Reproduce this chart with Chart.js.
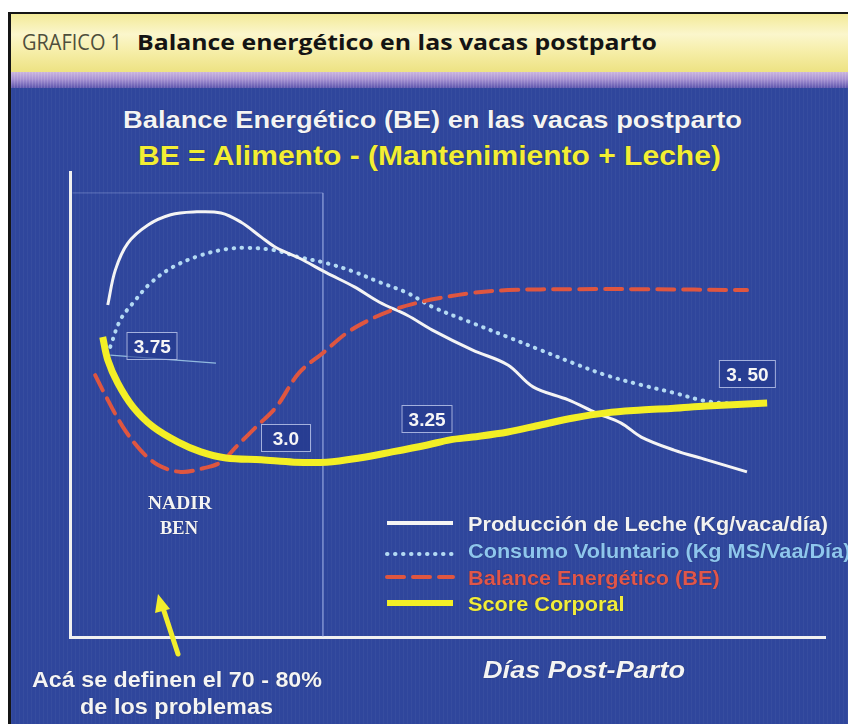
<!DOCTYPE html>
<html>
<head>
<meta charset="utf-8">
<script src="https://cdn.jsdelivr.net/npm/chart.js@4"></script>
<style>
  body { margin: 0; background: #fff; }
  #page { position: relative; width: 848px; height: 724px; overflow: hidden; background: #fff; }
  #frame { position: absolute; left: 8px; top: 12px; right: -4px; bottom: -4px; border-left: 3px solid #151515; border-top: 2px solid #151515; }
  #band { position: absolute; left: 11px; top: 14px; width: 837px; height: 58px;
    background: linear-gradient(180deg, #f3ea98 0%, #fbf6cc 35%, #f6eea8 65%, #ede283 100%); }
  #strip { position: absolute; left: 11px; top: 72px; width: 837px; height: 16px;
    background: repeating-linear-gradient(90deg, rgba(255,255,255,0.12) 0 1px, transparent 1px 3px),
                linear-gradient(180deg, #cbb5de 0%, #a792d2 45%, #5d55ad 100%); }
  #slide { position: absolute; left: 11px; top: 88px; width: 837px; height: 636px;
    background: repeating-linear-gradient(90deg, rgba(255,255,255,0.035) 0 1px, transparent 1px 4px), #2f469c; }
  canvas { position: absolute; left: 0; top: 0; }
  .t { position: absolute; white-space: nowrap; line-height: 1; transform: translateY(-50%); transform-origin: left center;
    font-family: "Liberation Sans", Arial, sans-serif; font-weight: bold; color: #f4f4f4;
    text-shadow: 0 0 1px rgba(0,0,0,0.5); }
  .hdr { font-family: "Open Sans", sans-serif; text-shadow: none; }
  .serif { font-family: "Liberation Serif", serif; }
  .box { position: absolute; transform: translate(-50%, -50%); border: 1px solid rgba(205,215,245,0.75);
    padding: 4px 6px 3px; min-width: 36px; text-align: center;
    font: bold 19px "Liberation Sans", Arial, sans-serif; color: #f6f6f6; line-height: 1;
    background: rgba(35,55,140,0.6); }
  .leg { position: absolute; left: 385px; width: 70px; height: 10px; transform: translateY(-50%); }
  svg { position: absolute; left: 0; top: 0; }
</style>
</head>
<body>
<div id="page">
  <div id="frame"></div>
  <div id="band"></div>
  <div id="strip"></div>
  <div id="slide"></div>

  <div class="t hdr" data-w="100" data-s="21" style="left:22px; top:42px; font-weight:400; color:#4e4e3c;">GRAFICO 1</div>
  <div class="t hdr" data-w="520" data-s="21" style="left:137px; top:42px; font-weight:700; color:#141414;">Balance energético en las vacas postparto</div>

  <div class="t" data-w="619" data-s="24" style="left:123px; top:120px;">Balance Energético (BE) en las vacas postparto</div>
  <div class="t" data-w="584" data-s="27" style="left:138px; top:156px; color:#f3ee34;">BE = Alimento - (Mantenimiento + Leche)</div>

  <canvas id="chart" width="848" height="724"></canvas>

  <div class="t serif" data-w="64" data-s="19" style="left:148px; top:502px;">NADIR</div>
  <div class="t serif" data-w="38" data-s="19" style="left:160px; top:527px;">BEN</div>

  <div class="t" data-w="202" data-s="23" style="left:483px; top:670px; font-style:italic;">Días Post-Parto</div>
  <div class="t" data-w="290" data-s="22" style="left:32px; top:680px;">Acá se definen el 70 - 80%</div>
  <div class="t" data-w="193" data-s="22" style="left:80px; top:707px;">de los problemas</div>

  <svg width="848" height="724">
    <line x1="178" y1="654" x2="163" y2="608" stroke="#f2ee2c" stroke-width="5" stroke-linecap="round"/>
    <polygon points="158,594 155,613 170,609" fill="#f2ee2c"/>
  </svg>
</div>

<script>
// Producción de leche (curva blanca)
const lecheDias = [15, 18, 23, 31, 40, 49, 60, 68, 76, 82, 91, 102, 113, 123, 134, 144, 160, 174, 184, 198, 209, 219, 227, 240, 253, 269];
const lecheVal = [71.4, 78.9, 84.7, 88.6, 90.8, 91.4, 91.2, 89.2, 86.0, 83.7, 81.5, 78.3, 75.3, 72.0, 69.2, 66.0, 61.7, 58.5, 53.8, 51.0, 48.2, 46.0, 43.0, 40.2, 38.1, 35.5];

// Consumo voluntario (punteada)
const consumoDias = [16, 20, 25, 32, 41, 52, 62, 70, 81, 91, 102, 113, 123, 134, 144, 160, 174, 187, 200, 213, 227, 240, 252, 264];
const consumoVal = [62.4, 68.2, 71.8, 76.1, 79.6, 82.1, 83.4, 83.7, 83.2, 81.7, 80.4, 78.5, 76.3, 74.0, 71.0, 67.5, 64.5, 61.7, 58.9, 56.3, 54.2, 52.5, 50.8, 50.1];

// Balance energetico (rayada)
const balanceDias = [10, 15, 21, 28, 35, 44, 53, 60, 66, 74, 82, 91, 101, 110, 119, 128, 139, 147, 160, 174, 200, 227, 269];
const balanceVal = [56.3, 51.0, 45.2, 40.2, 37.0, 35.5, 36.3, 37.6, 40.9, 45.2, 49.5, 56.8, 61.3, 65.4, 68.2, 70.3, 72.0, 72.9, 74.0, 74.6, 74.8, 74.8, 74.6];

// Score corporal (amarilla)
const scoreDias = [13, 15, 19, 25, 33, 43, 52, 62, 76, 89, 102, 115, 128, 142, 151, 160, 174, 187, 200, 213, 227, 240, 253, 277];
const scoreVal = [64.5, 59.6, 54.6, 49.5, 45.2, 41.9, 39.8, 38.5, 38.1, 37.6, 37.6, 38.5, 39.8, 41.3, 42.4, 43.0, 44.1, 45.6, 47.1, 48.2, 48.8, 49.2, 49.7, 50.3];

// etiquetas de score
const scoreTexto = ["3.75", "3.0", "3.25", "3. 50"];
const scoreTextoDias = [32.7, 85.8, 141.9, 269.2];
const scoreTextoVal = [62.5, 42.7, 46.9, 56.6];

// linea guia del 3.75 y marco tenue
const guiaDias = [16, 58];
const guiaVal = [60.6, 58.9];
const marcoDias = [1, 100.5, 100.5];
const marcoVal = [95.5, 95.5, 0];

function pts(xs, ys) {
    return xs.map((x, i) => ({ x: x, y: ys[i] }));
}

const series = [
    { label: "Producción de Leche (Kg/vaca/día)", data: pts(lecheDias, lecheVal), color: "#f4f4f4", text: "#f2f2f2", width: 3, dash: [], order: 2 },
    { label: "Consumo Voluntario (Kg MS/Vaa/Día)", data: pts(consumoDias, consumoVal), color: "#b4daf3", text: "#8ec6ee", width: 4, dash: [0.5, 7.5], order: 3 },
    { label: "Balance Energético (BE)", data: pts(balanceDias, balanceVal), color: "#df5640", text: "#e0564a", width: 4, dash: [17, 9], order: 1 },
    { label: "Score Corporal", data: pts(scoreDias, scoreVal), color: "#f3ef26", text: "#f1ec3a", width: 7, dash: [], order: 0 },
];

const datasets = series.map(s => ({
    label: s.label,
    data: s.data,
    borderColor: s.color,
    borderWidth: s.width,
    borderDash: s.dash,
    borderCapStyle: s.dash.length ? "round" : "butt",
    tension: 0.35,
    order: s.order,
}));
datasets.push({ label: "guia", data: pts(guiaDias, guiaVal), borderColor: "rgba(170,215,240,0.8)", borderWidth: 1.2, tension: 0, order: 4 });
datasets.push({ label: "marco", data: pts(marcoDias, marcoVal), borderColor: "rgba(185,200,245,0.35)", borderWidth: 1, tension: 0, order: 5 });

const chart = new Chart(document.getElementById("chart"), {
    type: "line",
    data: { datasets: datasets },
    options: {
        responsive: false,
        animation: false,
        layout: { padding: { left: 70, top: 172, right: 23, bottom: 87 } },
        elements: { point: { radius: 0 } },
        plugins: { legend: { display: false }, tooltip: { enabled: false } },
        scales: {
            x: {
                type: "linear", min: 0, max: 300,
                ticks: { display: false },
                grid: { display: false, drawTicks: false },
                border: { display: true, color: "#f0f0f0", width: 3 },
            },
            y: {
                min: 0, max: 100,
                ticks: { display: false },
                grid: { display: false, drawTicks: false },
                border: { display: true, color: "#f0f0f0", width: 3 },
            },
        },
    },
});

const page = document.getElementById("page");

// cajas con el score
scoreTexto.forEach((txt, i) => {
    const b = document.createElement("div");
    b.className = "box";
    b.textContent = txt;
    b.style.left = chart.scales.x.getPixelForValue(scoreTextoDias[i]) + "px";
    b.style.top = chart.scales.y.getPixelForValue(scoreTextoVal[i]) + "px";
    page.appendChild(b);
});

// leyenda
const legendY = [523, 550, 577, 603];
series.forEach((s, i) => {
    const svgNS = "http://www.w3.org/2000/svg";
    const sv = document.createElementNS(svgNS, "svg");
    sv.setAttribute("width", 70);
    sv.setAttribute("height", 10);
    sv.setAttribute("class", "leg");
    sv.style.top = (legendY[i] + (i == 1 ? 4 : 0)) + "px";
    sv.style.left = "385px";
    const ln = document.createElementNS(svgNS, "line");
    ln.setAttribute("x1", 2); ln.setAttribute("x2", 68);
    ln.setAttribute("y1", 5); ln.setAttribute("y2", 5);
    ln.setAttribute("stroke", s.color);
    ln.setAttribute("stroke-width", i == 3 ? 6 : 4);
    if (s.dash.length) {
        ln.setAttribute("stroke-dasharray", s.dash.join(" "));
        ln.setAttribute("stroke-linecap", "round");
    }
    sv.appendChild(ln);
    page.appendChild(sv);

    const t = document.createElement("div");
    t.className = "t legtxt";
    t.textContent = s.label;
    t.style.left = "468px";
    t.style.top = legendY[i] + "px";
    t.style.color = s.text;
    t.style.fontSize = "21px";
    page.appendChild(t);
});

// tamaño de letra segun altura del original, y ancho ajustado con scaleX
const mc = document.createElement("canvas").getContext("2d");
function fit(el, width, size) {
    el.style.fontSize = size + "px";
    const cs = getComputedStyle(el);
    mc.font = cs.fontStyle + " " + cs.fontWeight + " " + size + "px " + cs.fontFamily;
    const k = width / mc.measureText(el.textContent).width;
    el.style.transform = "translateY(-50%) scaleX(" + k + ")";
    return k;
}
document.querySelectorAll(".t[data-w]").forEach(el => fit(el, +el.dataset.w, +el.dataset.s));
const legs = document.querySelectorAll(".legtxt");
const kLeg = fit(legs[0], 360, 21);
legs.forEach(el => el.style.transform = "translateY(-50%) scaleX(" + kLeg + ")");
</script>
</body>
</html>
